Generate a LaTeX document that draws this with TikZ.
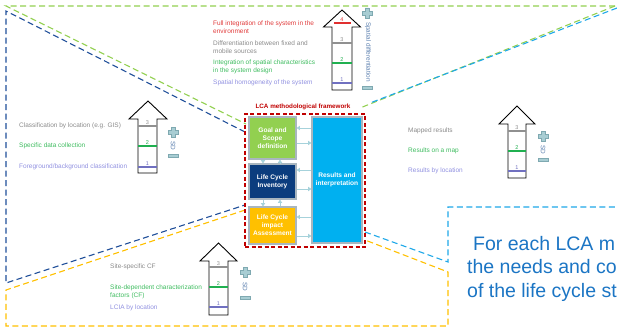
\documentclass[tikz,border=0pt]{standalone}
\usepackage{fontspec}
\setmainfont{Liberation Sans}
\usetikzlibrary{arrows.meta}
\definecolor{lgreen}{HTML}{92D050}
\definecolor{navyd}{HTML}{1F4E99}
\definecolor{yel}{HTML}{FFC000}
\definecolor{lblue}{HTML}{1FA8E8}
\definecolor{dred}{HTML}{C00000}
\definecolor{lcib}{HTML}{0B3D7E}
\definecolor{resb}{HTML}{00B0F0}
\definecolor{arrowc}{HTML}{A6D2DB}
\definecolor{boxb}{HTML}{A9B6BF}
\definecolor{tred}{HTML}{E03A3A}
\definecolor{tgray}{HTML}{8A8A8A}
\definecolor{tgreen}{HTML}{3DBB5E}
\definecolor{tpurple}{HTML}{9090E0}
\definecolor{lred}{HTML}{E03030}
\definecolor{lgray}{HTML}{909090}
\definecolor{lgrn}{HTML}{20B050}
\definecolor{lpur}{HTML}{7070C0}
\definecolor{pmf}{HTML}{A8CDD3}
\definecolor{pmd}{HTML}{7FA9B1}
\definecolor{sdc}{HTML}{5B7FAE}
\definecolor{bigb}{HTML}{1B75C4}
\begin{document}
\begin{tikzpicture}[x=1pt,y=-1pt,
  dline/.style={dash pattern=on 6pt off 3.5pt, line width=1.1pt},
  lvl/.style={draw=black, line width=0.9pt, fill=white, line join=miter},
  lab/.style={font=\fontsize{6.5}{8.2}\selectfont, anchor=west, align=left, inner sep=0pt},
  num/.style={font=\fontsize{5.5}{6}\selectfont, inner sep=0pt},
  tick/.style={line width=1.2pt},
  box/.style={draw=boxb, line width=1.2pt, text=white, font=\bfseries\fontsize{6.6}{7.9}\selectfont, align=center, inner sep=0pt},
  conn/.style={draw=arrowc, line width=1pt, -{Triangle[length=3.2pt,width=4.2pt]}},
  sdtext/.style={text=sdc, font=\fontsize{6.4}{7}\selectfont, rotate=-90, inner sep=0pt},
  bigtext/.style={text=bigb, font=\fontsize{19.5}{23.5}\selectfont, anchor=base west, inner sep=0pt},
  plussign/.pic={\path[fill=pmf,draw=pmd,line width=0.4pt] (-1.8,-5) -- (1.8,-5) -- (1.8,-1.8) -- (5,-1.8) -- (5,1.8) -- (1.8,1.8) -- (1.8,5) -- (-1.8,5) -- (-1.8,1.8) -- (-5,1.8) -- (-5,-1.8) -- (-1.8,-1.8) -- cycle;},
  minussign/.pic={\path[fill=pmf,draw=pmd,line width=0.4pt] (-5,-1.5) rectangle (5,1.5);}
]
\useasboundingbox (0,0) rectangle (617,334);
\clip (0,0) rectangle (617,334);

% ---------- dashed callout lines ----------
\coordinate (gTL) at (6,6);
\coordinate (gTR) at (615,6);
\coordinate (gL) at (246,124);
\coordinate (gR) at (360,108);
\draw[dline, lgreen] (gTR) -- (gTL) -- (gL);
\draw[dline, lgreen] (gTR) -- (gR);
\coordinate (bTR) at (617,8);
\coordinate (bR) at (370,103);
\draw[dline, lblue] (bTR) -- (bR);
\coordinate (nT) at (6,11);
\coordinate (nB) at (6,283);
\coordinate (nL1) at (245,132);
\coordinate (nL2) at (245,205);
\draw[dline, navyd] (nL1) -- (nT) -- (nB) -- (nL2);
\coordinate (yA) at (6,290);
\coordinate (yB) at (6,326);
\coordinate (yC) at (448,326);
\coordinate (yD) at (448,272);
\coordinate (yE) at (365,240);
\coordinate (yF) at (245,210);
\draw[dline, yel] (yF) -- (yA) -- (yB) -- (yC) -- (yD) -- (yE);
\coordinate (lA) at (365,232);
\coordinate (lB) at (448,262);
\coordinate (lC) at (448,207);
\coordinate (lD) at (620,207);
\draw[dline, lblue] (lA) -- (lB) -- (lC) -- (lD);

% ---------- LCA framework ----------
\node[draw=dred, dash pattern=on 4pt off 2.5pt, line width=1.1pt, minimum width=120pt, minimum height=133pt, inner sep=0pt] (fw) at (305,180.5) {};
\node[text=dred, font=\bfseries\fontsize{6.3}{7}\selectfont, inner sep=0pt] (fwlab) at (303,107) {LCA methodological framework};
\node[box, fill=lgreen, minimum width=47pt, minimum height=42pt] (goal) at (272.5,138) {Goal and\\Scope\\definition};
\node[box, fill=lcib, minimum width=47pt, minimum height=35pt] (lci) at (272.5,181.5) {Life Cycle\\Inventory};
\node[box, fill=yel, minimum width=47pt, minimum height=37pt] (lcia) at (272.5,225.5) {Life Cycle\\impact\\Assessment};
\node[box, fill=resb, minimum width=50pt, minimum height=126pt] (res) at (337,180) {Results and\\interpretation};

\draw[conn] (263,0 |- goal.south) -- (263,0 |- lci.north);
\draw[conn] (280,0 |- lci.north) -- (280,0 |- goal.south);
\draw[conn] (263,0 |- lci.south) -- (263,0 |- lcia.north);
\draw[conn] (280,0 |- lcia.north) -- (280,0 |- lci.south);
\draw[conn] (res.west |- 0,128) -- (goal.east |- 0,128);
\draw[conn] (goal.east |- 0,143) -- (res.west |- 0,143);
\draw[conn] (res.west |- 0,170) -- (lci.east |- 0,170);
\draw[conn] (lci.east |- 0,189) -- (res.west |- 0,189);
\draw[conn] (res.west |- 0,217) -- (lcia.east |- 0,217);
\draw[conn] (lcia.east |- 0,236) -- (res.west |- 0,236);

% ---------- top level arrow ----------
\draw[lvl] (342,10) -- (360.5,27) -- (352,27) -- (352,90) -- (332,90) -- (332,27) -- (323.5,27) -- cycle;
\draw[tick, lred] (333.5,23) -- (350.5,23);
\draw[tick, lgray] (332,43) -- (352,43);
\draw[tick, lgrn] (332,63) -- (352,63);
\draw[tick, lpur] (332,83) -- (352,83);
\node[num, text=lred] (t4) at (342,19.5) {4};
\node[num, text=lgray] (t3) at (342,39.5) {3};
\node[num, text=lgrn] (t2) at (342,59.5) {2};
\node[num, text=lpur] (t1) at (342,79.5) {1};
\pic at (367,13) {plussign};
\node[sdtext] (sdtop) at (368,52) {Spatial differentiation};
\pic at (367,88) {minussign};
\node[lab, text=tred] (lt4) at (213,27) {Full integration of the system in the\\environment};
\node[lab, text=tgray] (lt3) at (213,47) {Differentiation between fixed and\\mobile sources};
\node[lab, text=tgreen] (lt2) at (213,66.5) {Integration of spatial characteristics\\in the system design};
\node[lab, text=tpurple] (lt1) at (213,83) {Spatial homogeneity of the system};

% ---------- left level arrow ----------
\draw[lvl] (148,101) -- (167,119) -- (157,119) -- (157,173) -- (138,173) -- (138,119) -- (129,119) -- cycle;
\draw[tick, lgray] (138,126) -- (157,126);
\draw[tick, lgrn] (138,146) -- (157,146);
\draw[tick, lpur] (138,167) -- (157,167);
\node[num, text=lgray] (l3) at (147.5,122.5) {3};
\node[num, text=lgrn] (l2) at (147.5,142.5) {2};
\node[num, text=lpur] (l1) at (147.5,163.5) {1};
\pic at (173,132) {plussign};
\node[sdtext] (sdl) at (173,146) {SD};
\pic at (173,156) {minussign};
\node[lab, text=tgray] (ll3) at (19,126) {Classification by location (e.g. GIS)};
\node[lab, text=tgreen] (ll2) at (19,146) {Specific data collection};
\node[lab, text=tpurple] (ll1) at (19,167) {Foreground/background classification};

% ---------- right level arrow ----------
\draw[lvl] (517,106) -- (535,124) -- (526,124) -- (526,178) -- (508,178) -- (508,124) -- (499,124) -- cycle;
\draw[tick, lgray] (508,131) -- (526,131);
\draw[tick, lgrn] (508,151) -- (526,151);
\draw[tick, lpur] (508,171) -- (526,171);
\node[num, text=lgray] (r3) at (517,127.5) {3};
\node[num, text=lgrn] (r2) at (517,147.5) {2};
\node[num, text=lpur] (r1) at (517,167.5) {1};
\pic at (543,136) {plussign};
\node[sdtext] (sdr) at (543,150) {SD};
\pic at (543,160) {minussign};
\node[lab, text=tgray] (rl3) at (408,131) {Mapped results};
\node[lab, text=tgreen] (rl2) at (408,151) {Results on a map};
\node[lab, text=tpurple] (rl1) at (408,171) {Results by location};

% ---------- bottom level arrow ----------
\draw[lvl] (218.5,243) -- (237,261) -- (228,261) -- (228,315) -- (209,315) -- (209,261) -- (200,261) -- cycle;
\draw[tick, lgray] (209,267) -- (228,267);
\draw[tick, lgrn] (209,287) -- (228,287);
\draw[tick, lpur] (209,307) -- (228,307);
\node[num, text=lgray] (b3) at (218.5,263.5) {3};
\node[num, text=lgrn] (b2) at (218.5,283.5) {2};
\node[num, text=lpur] (b1) at (218.5,303.5) {1};
\pic at (245,272) {plussign};
\node[sdtext] (sdb) at (245,287) {SD};
\pic at (245,298) {minussign};
\node[lab, text=tgray] (bl3) at (110,267) {Site-specific CF};
\node[lab, text=tgreen] (bl2) at (110,292) {Site-dependent characterization\\factors (CF)};
\node[lab, text=tpurple] (bl1) at (110,308) {LCIA by location};

% ---------- big blue text ----------
\node[bigtext] (bt1) at (473,250) {For each LCA m};
\node[bigtext] (bt2) at (467,273.5) {the needs and co};
\node[bigtext] (bt3) at (467,297) {of the life cycle st};
\end{tikzpicture}
\end{document}
